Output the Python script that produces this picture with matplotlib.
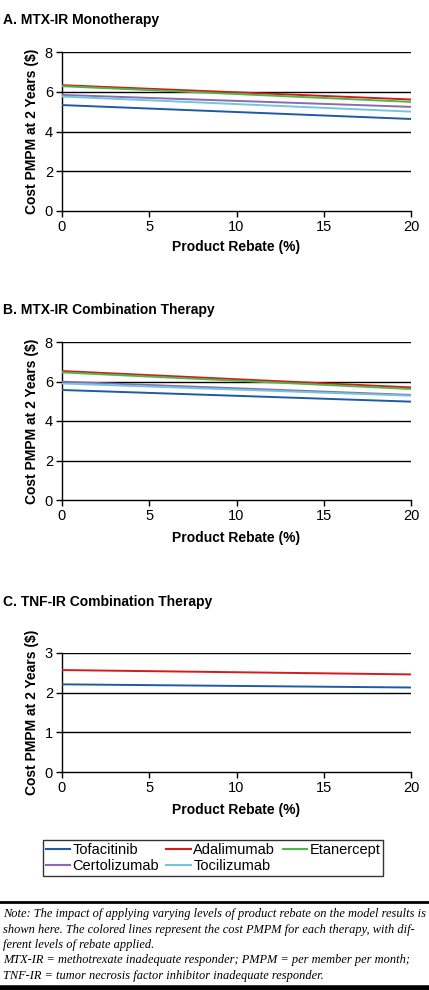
import numpy as np
import matplotlib.pyplot as plt
from matplotlib.lines import Line2D

plt.rcParams['font.family'] = ['Liberation Sans', 'DejaVu Sans']

# product rebate (%)
rebate = [0, 20]

drugs = ["Tofacitinib", "Adalimumab", "Etanercept", "Certolizumab", "Tocilizumab"]
colors = ["#1f5aa6", "#d7191c", "#4cb848", "#8a6bb3", "#72c6da"]

# cost PMPM at 2 years, start/end of rebate range
mono = {
    "Tofacitinib": [5.33, 4.63],
    "Adalimumab": [6.33, 5.61],
    "Etanercept": [6.28, 5.49],
    "Certolizumab": [5.84, 5.24],
    "Tocilizumab": [5.76, 5.00],
}
combo = {
    "Tofacitinib": [5.57, 4.98],
    "Adalimumab": [6.53, 5.70],
    "Etanercept": [6.46, 5.62],
    "Certolizumab": [5.99, 5.32],
    "Tocilizumab": [5.90, 5.28],
}
tnf = {
    "Tofacitinib": [2.21, 2.13],
    "Adalimumab": [2.57, 2.46],
}

W, H = 429, 990
fig = plt.figure(figsize=(W / 100, H / 100), dpi=100)


def box(left, top, right, bottom):
    return [left / W, 1 - bottom / H, (right - left) / W, (bottom - top) / H]


def panel(rect, data, ymax, yticks, title, title_y, xlab_y):
    ax = fig.add_axes(box(*rect))
    for d, c in zip(drugs, colors):
        if d in data:
            ax.plot(rebate, data[d], color=c, lw=1.4, zorder=3)
    for t in yticks[1:]:
        ax.axhline(t, color="black", lw=1, zorder=2)
    ax.set_xlim(0, 20)
    ax.set_ylim(0, ymax)
    ax.set_xticks([0, 5, 10, 15, 20])
    ax.set_yticks(yticks)
    ax.spines["top"].set_visible(False)
    ax.spines["right"].set_visible(False)
    ax.spines["left"].set_linewidth(1)
    ax.spines["bottom"].set_linewidth(1)
    ax.tick_params(labelsize=10.5, length=4, width=1, pad=2.5, colors="black")
    ax.set_ylabel("Cost PMPM at 2 Years (\\$)", fontsize=10, fontweight="bold", labelpad=4)
    fig.text(236 / W, 1 - xlab_y / H, "Product Rebate (%)", fontsize=10,
             fontweight="bold", ha="center", va="center")
    fig.text(3 / W, 1 - title_y / H, title, fontsize=10, fontweight="bold",
             ha="left", va="center")
    return ax


panel((62, 52, 411, 211), mono, 8, [0, 2, 4, 6, 8], "A. MTX-IR Monotherapy", 20, 247)
panel((62, 342, 411, 500), combo, 8, [0, 2, 4, 6, 8], "B. MTX-IR Combination Therapy", 310, 538)
panel((62, 653, 411, 772), tnf, 3, [0, 1, 2, 3], "C. TNF-IR Combination Therapy", 602, 810)

# legend
handles = [Line2D([], [], color=c, lw=1.5) for c in colors]
order = [0, 3, 1, 4, 2]
leg = fig.legend([handles[i] for i in order] + [Line2D([], [], alpha=0)],
                 [drugs[i] for i in order] + [""],
                 loc="center", bbox_to_anchor=(213 / W, 1 - 858 / H), ncol=3,
                 fontsize=10.5, frameon=True, fancybox=False, edgecolor="black",
                 handlelength=1.7, handletextpad=0.15, columnspacing=0.5,
                 labelspacing=0.1, borderpad=0.2, borderaxespad=0)
leg.get_frame().set_linewidth(1)

# note block
fig.add_artist(Line2D([0, 1], [1 - 902 / H] * 2, color="black", lw=2))
fig.add_artist(Line2D([0, 1], [1 - 988 / H] * 2, color="black", lw=4))
notes = [
    "Note: The impact of applying varying levels of product rebate on the model results is",
    "shown here. The colored lines represent the cost PMPM for each therapy, with dif-",
    "ferent levels of rebate applied.",
    "MTX-IR = methotrexate inadequate responder; PMPM = per member per month;",
    "TNF-IR = tumor necrosis factor inhibitor inadequate responder.",
]
for i, line in enumerate(notes):
    fig.text(3 / W, 1 - (914 + i * 15.5) / H, line, fontsize=8.9, style="italic",
             family="Liberation Serif", ha="left", va="center")

fig.savefig("out.png", dpi=100)
